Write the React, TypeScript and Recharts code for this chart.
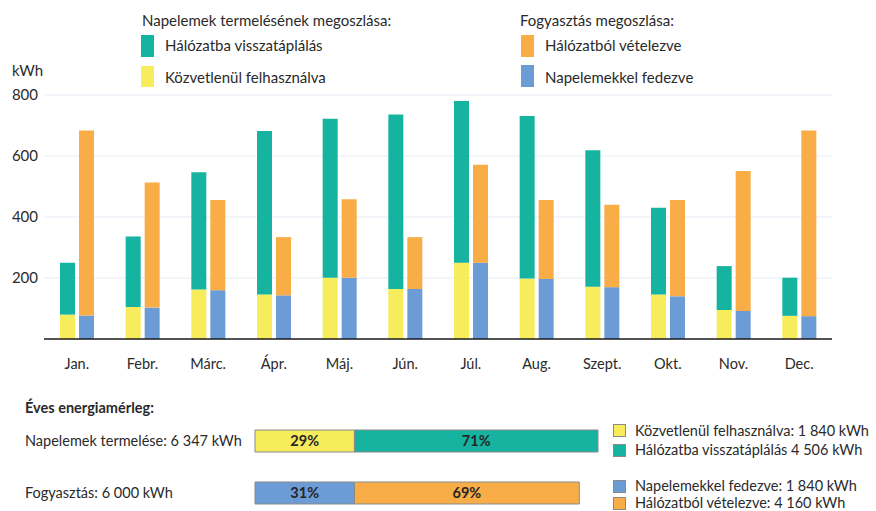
import React from 'react';
import { BarChart, Bar, XAxis, YAxis, CartesianGrid, Cell, LabelList } from 'recharts';

const months = ['Jan.', 'Febr.', 'Márc.', 'Ápr.', 'Máj.', 'Jún.', 'Júl.', 'Aug.', 'Szept.', 'Okt.', 'Nov.', 'Dec.'];
// production split
const directUse = [80, 105, 162, 146, 201, 164, 250, 198, 171, 146, 95, 76];
const feedIn = [170, 231, 385, 536, 521, 572, 530, 533, 448, 284, 144, 125];
// consumption split
const solarCovered = [77, 103, 160, 143, 201, 164, 250, 197, 170, 140, 92, 75];
const fromGrid = [607, 410, 296, 191, 257, 170, 321, 259, 270, 316, 459, 609];
const yTicks = [200, 400, 600, 800];

const annualLabels = ['Napelemek termelése: 6 347 kWh', 'Fogyasztás: 6 000 kWh'];
const annualFirst = [1840, 1840];
const annualSecond = [4506, 4160];

const TEAL = '#15b3a0';
const YELLOW = '#f6ec5c';
const ORANGE = '#f8ad47';
const BLUE = '#6c9cd6';
const TEXT = '#2a2a2a';
const FONT = 'Lato, "Open Sans", sans-serif';

const monthly = months.map((m, i) => ({
  month: m,
  direct: directUse[i],
  feed: feedIn[i],
  covered: solarCovered[i],
  grid: fromGrid[i],
}));

const annual = annualLabels.map((label, i) => {
  const total = annualFirst[i] + annualSecond[i];
  return {
    label,
    first: annualFirst[i],
    second: annualSecond[i],
    firstPct: Math.round((annualFirst[i] / total) * 100) + '%',
    secondPct: Math.round((annualSecond[i] / total) * 100) + '%',
  };
});

const firstColors = [YELLOW, BLUE];
const secondColors = [TEAL, ORANGE];

const Txt = ({ left, cy, children, size = 15, bold = false }: any) => (
  <div
    style={{
      position: 'absolute',
      left,
      top: cy - 10,
      height: 20,
      lineHeight: '20px',
      fontSize: size,
      fontWeight: bold ? 700 : 400,
      color: TEXT,
      whiteSpace: 'nowrap',
    }}
  >
    {children}
  </div>
);

const Swatch = ({ left, top, w = 13, h = 13, color, border = false }: any) => (
  <div
    style={{
      position: 'absolute',
      left,
      top,
      width: w,
      height: h,
      background: color,
      boxSizing: 'border-box',
      border: border ? '1px solid #8a8a8a' : 'none',
    }}
  />
);

const RowTick = ({ y, payload }: any) => (
  <text x={25} y={y} dy="0.35em" textAnchor="start" fill={TEXT} fontSize={14.5} fontFamily={FONT}>
    {payload.value}
  </text>
);

export default function App() {
  return (
    <div
      style={{
        position: 'absolute',
        left: 0,
        top: 0,
        width: 876,
        height: 511,
        overflow: 'hidden',
        background: '#fff',
        fontFamily: FONT,
      }}
    >
      <Txt left={142} cy={20}>Napelemek termelésének megoszlása:</Txt>
      <Swatch left={141} top={35} h={22} color={TEAL} />
      <Txt left={165} cy={45}>Hálózatba visszatáplálás</Txt>
      <Swatch left={141} top={66} h={21} color={YELLOW} />
      <Txt left={165} cy={77}>Közvetlenül felhasználva</Txt>

      <Txt left={520} cy={20}>Fogyasztás megoszlása:</Txt>
      <Swatch left={521} top={35} h={22} color={ORANGE} />
      <Txt left={545} cy={45}>Hálózatból vételezve</Txt>
      <Swatch left={521} top={65} h={22} color={BLUE} />
      <Txt left={545} cy={77}>Napelemekkel fedezve</Txt>

      <Txt left={12} cy={70}>kWh</Txt>

      <div style={{ position: 'absolute', left: 0, top: 0 }}>
        <BarChart
          width={876}
          height={380}
          data={monthly}
          margin={{ top: 95, right: 44, bottom: 0, left: 0 }}
          barSize={15}
          barGap={4}
        >
          <CartesianGrid vertical={false} stroke="#e4edf5" horizontalValues={yTicks} />
          <XAxis
            dataKey="month"
            height={41}
            axisLine={{ stroke: '#1a1a1a', strokeWidth: 1.5 }}
            tickLine={false}
            tickSize={0}
            tickMargin={20}
            tick={{ fill: TEXT, fontSize: 14.5, fontFamily: FONT }}
          />
          <YAxis
            width={44}
            domain={[0, 800]}
            ticks={yTicks}
            axisLine={false}
            tickLine={false}
            tickSize={0}
            tickMargin={6}
            tick={{ fill: TEXT, fontSize: 15, fontFamily: FONT }}
          />
          <Bar dataKey="direct" stackId="prod" fill={YELLOW} isAnimationActive={false} />
          <Bar dataKey="feed" stackId="prod" fill={TEAL} isAnimationActive={false} />
          <Bar dataKey="covered" stackId="cons" fill={BLUE} isAnimationActive={false} />
          <Bar dataKey="grid" stackId="cons" fill={ORANGE} isAnimationActive={false} />
        </BarChart>
      </div>

      <Txt left={25} cy={408} size={14.5} bold>Éves energiamérleg:</Txt>

      <div style={{ position: 'absolute', left: 0, top: 415 }}>
        <BarChart
          width={876}
          height={104}
          data={annual}
          layout="vertical"
          margin={{ top: 0, right: 278, bottom: 0, left: 0 }}
          barSize={22}
        >
          <XAxis type="number" hide domain={[0, 'dataMax']} />
          <YAxis
            type="category"
            dataKey="label"
            width={255}
            axisLine={false}
            tickLine={false}
            tick={<RowTick />}
          />
          <Bar dataKey="first" stackId="a" stroke="#8a8a8a" strokeWidth={1} isAnimationActive={false}>
            {annual.map((_, i) => (
              <Cell key={`f-${i}`} fill={firstColors[i]} />
            ))}
            <LabelList dataKey="firstPct" position="center" fill="#262626" fontSize={14.5} fontWeight={700} fontFamily={FONT} />
          </Bar>
          <Bar dataKey="second" stackId="a" stroke="#8a8a8a" strokeWidth={1} isAnimationActive={false}>
            {annual.map((_, i) => (
              <Cell key={`s-${i}`} fill={secondColors[i]} />
            ))}
            <LabelList dataKey="secondPct" position="center" fill="#262626" fontSize={14.5} fontWeight={700} fontFamily={FONT} />
          </Bar>
        </BarChart>
      </div>

      <Swatch left={613} top={424} color={YELLOW} border />
      <Txt left={635} cy={431} size={14.5}>Közvetlenül felhasználva: 1 840 kWh</Txt>
      <Swatch left={613} top={444} color={TEAL} border />
      <Txt left={635} cy={450} size={14.5}>Hálózatba visszatáplálás 4 506 kWh</Txt>
      <Swatch left={613} top={480} color={BLUE} border />
      <Txt left={635} cy={486} size={14.5}>Napelemekkel fedezve: 1 840 kWh</Txt>
      <Swatch left={613} top={497} color={ORANGE} border />
      <Txt left={635} cy={503} size={14.5}>Hálózatból vételezve: 4 160 kWh</Txt>
    </div>
  );
}
